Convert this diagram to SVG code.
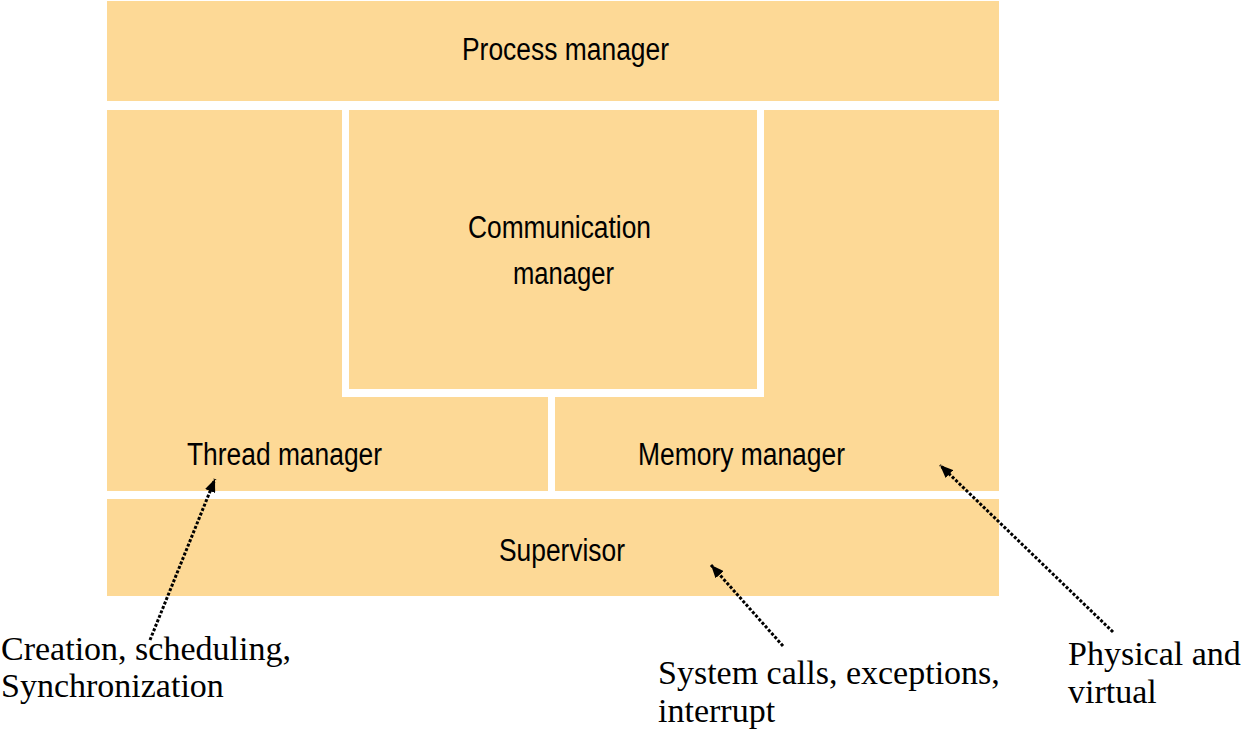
<svg xmlns="http://www.w3.org/2000/svg" width="1241" height="732" viewBox="0 0 1241 732">
<style>
.box{fill:#FDD996;stroke:none}
.lbl{font-family:"Liberation Sans",Arial,sans-serif;font-size:31px;fill:#000;text-anchor:middle}
.note{font-family:"Liberation Serif","Times New Roman",serif;font-size:34px;fill:#000}
.conn{fill:none;stroke:#000;stroke-width:3;stroke-dasharray:3 1.8}
</style>
<defs>
<marker id="ah" viewBox="0 0 12 10" refX="12" refY="5" markerWidth="13" markerHeight="11" markerUnits="userSpaceOnUse" orient="auto">
<path d="M0,0 L12,5 L0,10 Z" fill="#000"/>
</marker>
</defs>
<rect width="1241" height="732" fill="#fff"/>
<g id="process-manager">
<rect class="box" x="107" y="1" width="892" height="100"/>
<text class="lbl" x="565.5" y="60" textLength="207" lengthAdjust="spacingAndGlyphs">Process manager</text>
</g>
<g id="thread-manager">
<polygon class="box" points="107,110 342,110 342,397 548,397 548,491 107,491"/>
<text class="lbl" x="284.5" y="465" textLength="195" lengthAdjust="spacingAndGlyphs">Thread manager</text>
</g>
<g id="communication-manager">
<rect class="box" x="349" y="110" width="408" height="279"/>
<text class="lbl" x="559.5" y="238" textLength="183" lengthAdjust="spacingAndGlyphs">Communication</text>
<text class="lbl" x="563.5" y="284" textLength="101" lengthAdjust="spacingAndGlyphs">manager</text>
</g>
<g id="memory-manager">
<polygon class="box" points="764,110 999,110 999,491 555,491 555,397 764,397"/>
<text class="lbl" x="741.5" y="465" textLength="207" lengthAdjust="spacingAndGlyphs">Memory manager</text>
</g>
<g id="supervisor">
<rect class="box" x="107" y="499" width="892" height="97"/>
<text class="lbl" x="562" y="561" textLength="126" lengthAdjust="spacingAndGlyphs">Supervisor</text>
</g>
<g id="note-thread">
<text class="note" x="1" y="660">Creation, scheduling,</text>
<text class="note" x="1" y="697">Synchronization</text>
</g>
<g id="note-supervisor">
<text class="note" x="658" y="684">System calls, exceptions,</text>
<text class="note" x="658" y="722">interrupt</text>
</g>
<g id="note-memory">
<text class="note" x="1068" y="665">Physical and</text>
<text class="note" x="1068" y="703">virtual</text>
</g>
<g id="connectors">
<line class="conn" x1="150" y1="640" x2="215" y2="479" marker-end="url(#ah)"/>
<line class="conn" x1="783" y1="646" x2="711" y2="565" marker-end="url(#ah)"/>
<line class="conn" x1="1113" y1="632" x2="940" y2="465" marker-end="url(#ah)"/>
</g>
</svg>
